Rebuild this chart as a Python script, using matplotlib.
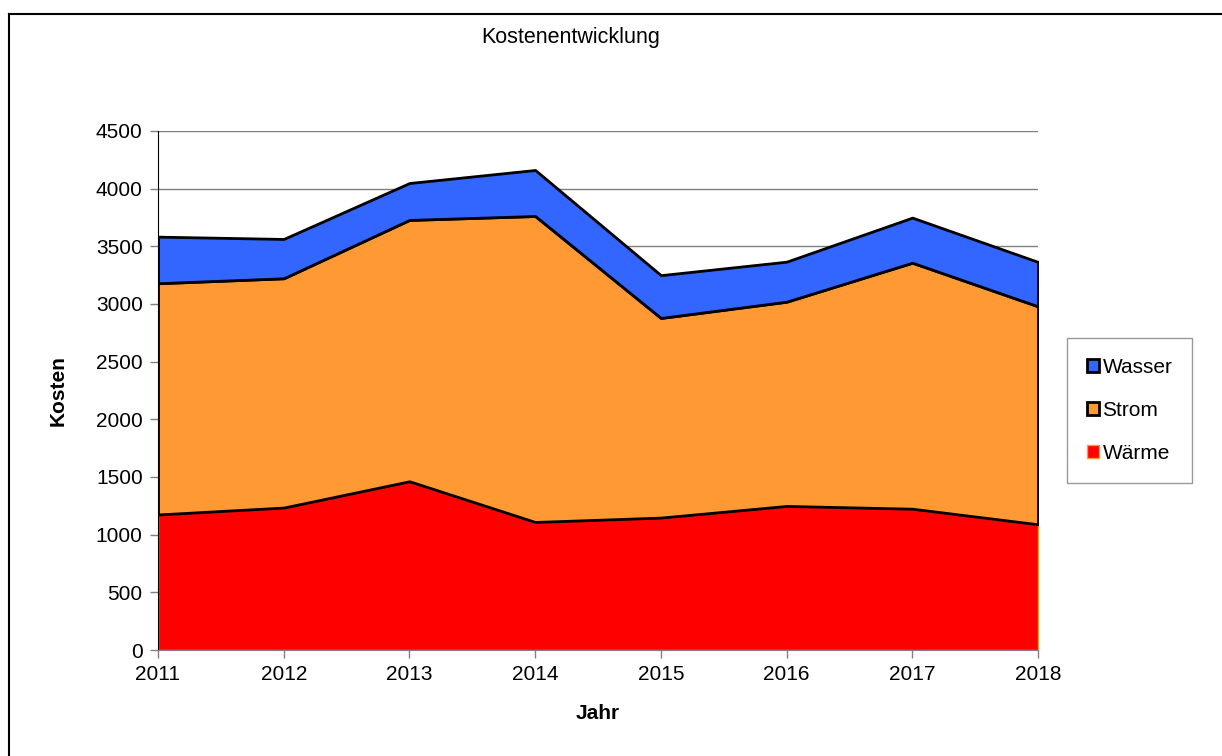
import matplotlib
matplotlib.use("Agg")
import matplotlib.pyplot as plt
from matplotlib.lines import Line2D

plt.rcParams['font.family'] = ['Liberation Sans', 'DejaVu Sans']

years = [2011, 2012, 2013, 2014, 2015, 2016, 2017, 2018]
waerme = [1175, 1235, 1463, 1110, 1148, 1249, 1225, 1090]
strom = [2005, 1988, 2266, 2653, 1731, 1771, 2133, 1890]
wasser = [404, 341, 320, 399, 371, 347, 391, 385]
series_names = ["Wärme", "Strom", "Wasser"]
yticks = [0, 500, 1000, 1500, 2000, 2500, 3000, 3500, 4000, 4500]

W, H = 1222, 756
FS = 15
fig = plt.figure(figsize=(W / 100, H / 100), dpi=100)
ax = fig.add_axes([158 / W, 1 - 650 / H, (1038 - 158) / W, (650 - 131) / H])

colors = ["#ff0000", "#ff9933", "#3366ff"]
edges = ["#ff9933", "black", "black"]
lws = [1.0, 2.0, 2.0]
polys = ax.stackplot(years, waerme, strom, wasser, labels=series_names,
                     colors=colors, zorder=2)
for p, ec, lw in zip(polys, edges, lws):
    p.set_edgecolor(ec)
    p.set_linewidth(lw)

ax.set_xlim(years[0], years[-1])
ax.set_ylim(0, 4500)
ax.set_xticks(years)
ax.set_xticklabels([str(y) for y in years])
ax.set_yticks(yticks)
ax.yaxis.grid(True, color="#808080", linewidth=1.0, zorder=0)
ax.set_axisbelow(True)
for s in ["top", "right"]:
    ax.spines[s].set_visible(False)
ax.spines["left"].set_color("black")
ax.spines["bottom"].set_color("#808080")
ax.tick_params(axis="both", labelsize=FS, direction="out", length=6,
               color="#808080", width=1)
ax.tick_params(axis="y", pad=5)
ax.tick_params(axis="x", pad=5)

ax.set_xlabel("Jahr", fontsize=FS, fontweight="bold", labelpad=14)
ax.set_ylabel("Kosten", fontsize=FS, fontweight="bold", labelpad=20)

fig.text(571 / W, 1 - 37 / H, "Kostenentwicklung", fontsize=15.5,
         ha="center", va="center")

handles = [polys[2], polys[1], polys[0]]
labels = ["Wasser", "Strom", "Wärme"]
leg = fig.legend(handles, labels, loc="upper left",
                 bbox_to_anchor=(1067 / W, 1 - 338 / H),
                 fontsize=FS, frameon=True, fancybox=False,
                 edgecolor="#808080", handlelength=0.6, handleheight=0.6,
                 handletextpad=0.15, labelspacing=1.15, borderpad=0.95,
                 borderaxespad=0)
leg.get_frame().set_linewidth(1.0)

# outer chart border (top and left visible)
fig.add_artist(Line2D([9 / W, 9 / W], [0, 1 - 14 / H], transform=fig.transFigure,
                      color="black", linewidth=1.5))
fig.add_artist(Line2D([9 / W, 1], [1 - 14 / H, 1 - 14 / H], transform=fig.transFigure,
                      color="black", linewidth=1.5))

fig.savefig("out.png", dpi=100)
